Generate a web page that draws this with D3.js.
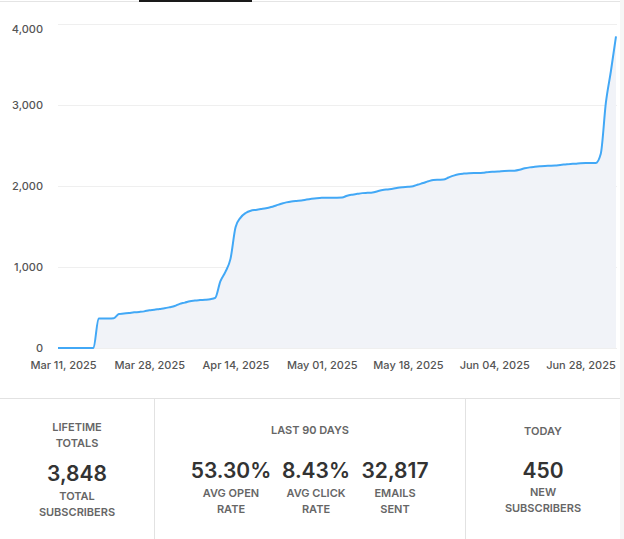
<!DOCTYPE html>
<html>
<head>
<meta charset="utf-8">
<script src="https://cdn.jsdelivr.net/npm/d3@7"></script>
<style>
	body { margin: 0; background: #fff; font-family: Inter, "Noto Sans", sans-serif; }
	svg text { font-family: Inter, "Noto Sans", sans-serif; }
	.axis text { fill: #555; font-size: 11px; font-weight: 500; }
	.axis path, .axis line { display: none; }
	.grid line { stroke: #efefef; }
	.grid path { display: none; }
	.big { fill: #333; font-size: 21px; font-weight: 600; }
	.small { fill: #666; font-size: 11px; font-weight: 600; }
</style>
</head>
<body>
<div id="chart"></div>
<script>
// subscribers, one value per data point
let subscribers	= [
	0, 0, 0, 0, 0, 0, 0, 0, 365, 365, 365, 368, 420, 425, 432, 440, 445,
	452, 466, 472, 482, 490, 503, 518, 545, 560, 578, 585, 592, 596, 603, 620, 822,
	940, 1100, 1490, 1610, 1667, 1695, 1705, 1715, 1725, 1740, 1760, 1780, 1798, 1810, 1816, 1820,
	1832, 1842, 1850, 1855, 1856, 1856, 1856, 1858, 1880, 1893, 1903, 1912, 1916, 1920, 1935, 1950,
	1958, 1966, 1978, 1985, 1990, 1998, 2018, 2037, 2058, 2075, 2078, 2080, 2105, 2128, 2145, 2153,
	2158, 2160, 2160, 2165, 2173, 2176, 2180, 2184, 2187, 2189, 2200, 2218, 2230, 2237, 2243, 2248,
	2250, 2253, 2260, 2266, 2272, 2276, 2282, 2284, 2283, 2284, 2399, 3025, 3420, 3848
];
let tickLabels	= ["Mar 11, 2025", "Mar 28, 2025", "Apr 14, 2025", "May 01, 2025", "May 18, 2025", "Jun 04, 2025", "Jun 28, 2025"];
let tickIndex	= [0, 17, 34, 51, 68, 85, 102];
let yTicks		= [0, 1000, 2000, 3000, 4000];

// stat panels
let panelTitles	= [["LIFETIME", "TOTALS"], ["LAST 90 DAYS"], ["TODAY"]];
let statValues	= ["3,848", "53.30%", "8.43%", "32,817", "450"];
let statLabels	= [["TOTAL", "SUBSCRIBERS"], ["AVG OPEN", "RATE"], ["AVG CLICK", "RATE"], ["EMAILS", "SENT"], ["NEW", "SUBSCRIBERS"]];

let canvasWidth		= 624;
let canvasHeight	= 539;
let margin			= { top: 24, right: 7, bottom: 191, left: 58 };
let width			= canvasWidth - margin.left - margin.right;
let height			= canvasHeight - margin.top - margin.bottom;

let root = d3.select("#chart").append("svg")
	.attr("width", canvasWidth)
	.attr("height", canvasHeight);

// page chrome
root.append("rect").attr("x", 0).attr("y", 1).attr("width", canvasWidth).attr("height", 1).attr("fill", "#e4e4e4");
root.append("rect").attr("x", 139).attr("y", 0).attr("width", 113).attr("height", 2).attr("fill", "#1a1a1a");
root.append("rect").attr("x", 620).attr("y", 0).attr("width", 4).attr("height", canvasHeight).attr("fill", "#f6f6f6");

let svg = root.append("g")
	.attr("transform", "translate(" + margin.left + "," + margin.top + ")");

let x	= d3.scaleLinear().domain([0, subscribers.length - 1]).range([0, width - 1]);
let y	= d3.scaleLinear().domain([0, 4000]).range([height, 0]);

svg.append("g")
	.attr("class", "grid")
	.call(d3.axisLeft(y).tickValues(yTicks).tickSize(-width).tickFormat(""));

let area = d3.area()
	.x((o, i) => x(i))
	.y0(height)
	.y1((o) => y(o))
	.curve(d3.curveMonotoneX);

let line = d3.line()
	.x((o, i) => x(i))
	.y((o) => y(o))
	.curve(d3.curveMonotoneX);

svg.append("path")
	.datum(subscribers)
	.attr("fill", "#f1f3f8")
	.attr("d", area);

svg.append("path")
	.datum(subscribers)
	.attr("fill", "none")
	.attr("stroke", "#42a8f6")
	.attr("stroke-width", 2)
	.attr("stroke-linejoin", "round")
	.attr("d", line);

svg.append("g")
	.attr("class", "y axis")
	.call(d3.axisLeft(y).tickValues(yTicks).tickSize(0).tickPadding(15).tickFormat(d3.format(",")))
	.selectAll("text")
	// top label sits a little below its gridline, like the original
	.attr("dy", (d) => (d === 4000 ? "0.8em" : "0.32em"));

svg.append("g")
	.attr("class", "x axis")
	.attr("transform", "translate(0," + height + ")")
	.call(d3.axisBottom(x).tickValues(tickIndex).tickSize(0).tickPadding(13).tickFormat((d, i) => tickLabels[i]))
	.selectAll("text")
	.attr("dx", 5);

// bottom stats
let panelTop	= 398;
let dividers	= [154, 465];

root.append("rect").attr("x", 0).attr("y", panelTop).attr("width", 620).attr("height", 1).attr("fill", "#e2e2e2");
dividers.forEach((d) => {
	root.append("rect").attr("x", d).attr("y", panelTop).attr("width", 1).attr("height", canvasHeight - panelTop).attr("fill", "#e2e2e2");
});

let titlePos	= [{ x: 77, y: 427 }, { x: 310, y: 430 }, { x: 543, y: 431 }];
let statPos		= [
	{ x: 77, y: 473, ly: 496 },
	{ x: 231, y: 470, ly: 493 },
	{ x: 316, y: 470, ly: 493 },
	{ x: 395, y: 470, ly: 493 },
	{ x: 543, y: 470, ly: 492 }
];

panelTitles.forEach((lines, i) => {
	lines.forEach((t, j) => {
		root.append("text")
			.attr("class", "small")
			.attr("text-anchor", "middle")
			.attr("dominant-baseline", "central")
			.attr("x", titlePos[i].x)
			.attr("y", titlePos[i].y + j * 16)
			.text(t);
	});
});

statValues.forEach((v, i) => {
	root.append("text")
		.attr("class", "big")
		.attr("text-anchor", "middle")
		.attr("dominant-baseline", "central")
		.attr("x", statPos[i].x)
		.attr("y", statPos[i].y)
		.text(v);

	statLabels[i].forEach((t, j) => {
		root.append("text")
			.attr("class", "small")
			.attr("text-anchor", "middle")
			.attr("dominant-baseline", "central")
			.attr("x", statPos[i].x)
			.attr("y", statPos[i].ly + j * 16)
			.text(t);
	});
});
</script>
</body>
</html>
